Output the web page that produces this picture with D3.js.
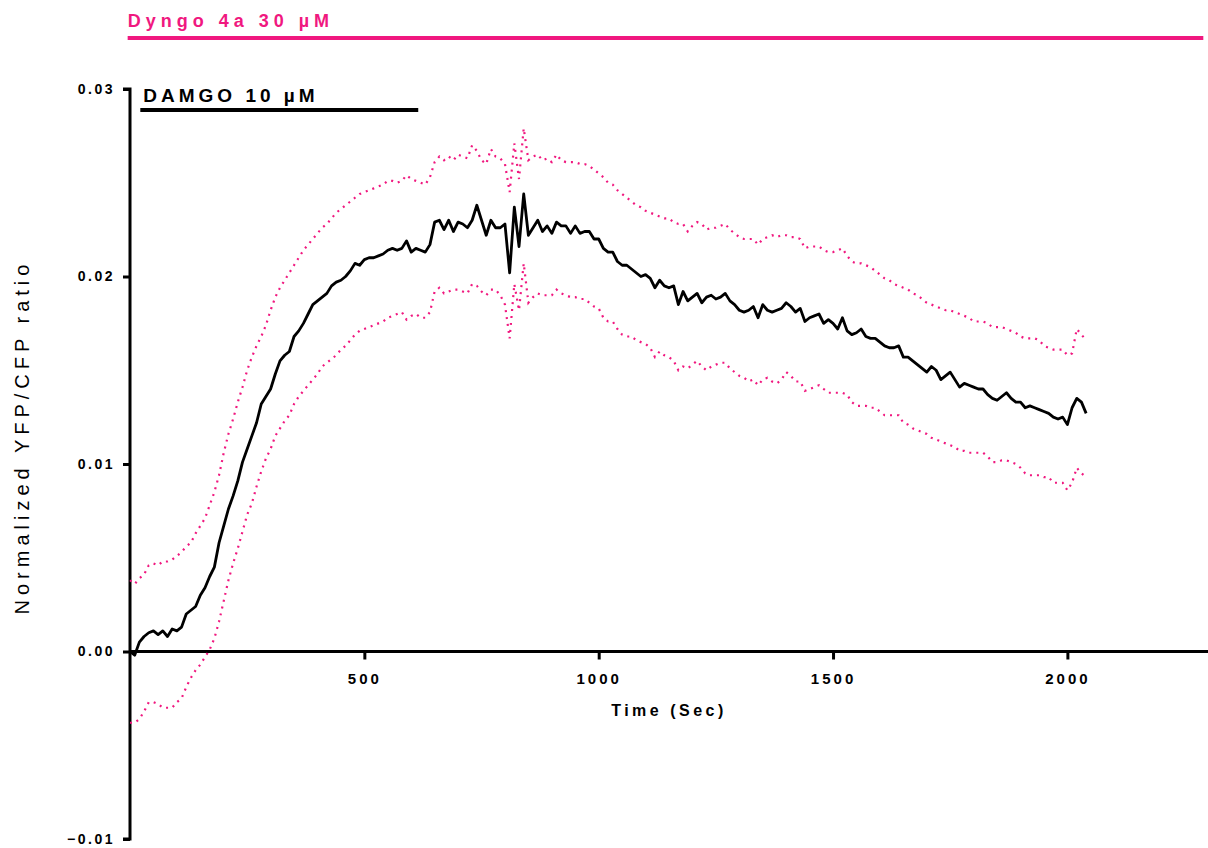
<!DOCTYPE html>
<html>
<head>
<meta charset="utf-8">
<script src="https://cdn.jsdelivr.net/npm/d3@7"></script>
<style>
  body { margin: 0; background: #fff; }
  svg text { font-family: "Liberation Sans", Arial, sans-serif; }
</style>
</head>
<body>
<div id="graph"></div>
<script>
// time points (sec), one sample every 10 s
const timeSec = d3.range(0, 2041, 10);

// normalized YFP/CFP ratio, mean trace
const meanRatio = [
  0.0000,-0.0002,0.0005,0.0008,0.0010,0.0011,0.0009,0.0011,0.0008,0.0012,
  0.0011,0.0013,0.0020,0.0022,0.0024,0.0030,0.0034,0.0040,0.0045,0.0058,
  0.0067,0.0076,0.0083,0.0091,0.0101,0.0108,0.0115,0.0122,0.0132,0.0136,
  0.0140,0.0148,0.0155,0.0158,0.0160,0.0168,0.0171,0.0175,0.0180,0.0185,
  0.0187,0.0189,0.0191,0.0195,0.0197,0.0198,0.0200,0.0203,0.0207,0.0206,
  0.0209,0.0210,0.0210,0.0211,0.0212,0.0214,0.0215,0.0214,0.0215,0.0219,
  0.0213,0.0215,0.0214,0.0213,0.0217,0.0229,0.0230,0.0225,0.0230,0.0224,
  0.0229,0.0228,0.0226,0.0230,0.0238,0.0230,0.0222,0.0230,0.0226,0.0226,
  0.0228,0.0202,0.0237,0.0216,0.0244,0.0222,0.0226,0.0230,0.0224,0.0227,
  0.0223,0.0229,0.0227,0.0227,0.0223,0.0227,0.0223,0.0224,0.0224,0.0220,
  0.0220,0.0215,0.0213,0.0213,0.0208,0.0206,0.0206,0.0204,0.0202,0.0200,
  0.0201,0.0199,0.0194,0.0198,0.0195,0.0194,0.0195,0.0185,0.0192,0.0187,
  0.0189,0.0191,0.0186,0.0189,0.0190,0.0188,0.0189,0.0191,0.0187,0.0185,
  0.0182,0.0181,0.0182,0.0184,0.0178,0.0185,0.0182,0.0181,0.0182,0.0183,
  0.0186,0.0184,0.0181,0.0183,0.0176,0.0178,0.0179,0.0180,0.0175,0.0177,
  0.0175,0.0172,0.0178,0.0171,0.0169,0.0170,0.0172,0.0168,0.0167,0.0167,
  0.0165,0.0163,0.0162,0.0162,0.0163,0.0157,0.0157,0.0155,0.0153,0.0151,
  0.0149,0.0152,0.0150,0.0145,0.0147,0.0149,0.0145,0.0141,0.0143,0.0142,
  0.0141,0.0140,0.0140,0.0137,0.0135,0.0134,0.0136,0.0138,0.0135,0.0133,
  0.0133,0.0130,0.0131,0.0130,0.0129,0.0128,0.0127,0.0125,0.0124,0.0125,
  0.0121,0.0130,0.0135,0.0133,0.0127
];

// upper band (mean + SEM)
const upperRatio = [
  0.0038,0.0036,0.0039,0.0041,0.0046,0.0047,0.0046,0.0048,0.0048,0.0049,
  0.0051,0.0053,0.0056,0.0058,0.0063,0.0067,0.0071,0.0078,0.0085,0.0094,
  0.0106,0.0116,0.0124,0.0133,0.0141,0.0150,0.0157,0.0163,0.0168,0.0174,
  0.0182,0.0189,0.0194,0.0198,0.0202,0.0206,0.0210,0.0214,0.0217,0.0220,
  0.0223,0.0226,0.0228,0.0231,0.0234,0.0236,0.0238,0.0240,0.0242,0.0244,
  0.0245,0.0246,0.0247,0.0248,0.0249,0.0251,0.0251,0.0250,0.0251,0.0254,
  0.0252,0.0251,0.0250,0.0249,0.0253,0.0261,0.0264,0.0262,0.0264,0.0262,
  0.0265,0.0264,0.0263,0.0270,0.0267,0.0262,0.0260,0.0268,0.0264,0.0263,
  0.0260,0.0245,0.0271,0.0252,0.0279,0.0262,0.0264,0.0265,0.0262,0.0263,
  0.0261,0.0265,0.0262,0.0261,0.0261,0.0261,0.0260,0.0260,0.0259,0.0257,
  0.0255,0.0253,0.0250,0.0249,0.0246,0.0244,0.0242,0.0240,0.0238,0.0237,
  0.0235,0.0234,0.0233,0.0232,0.0231,0.0231,0.0229,0.0228,0.0228,0.0224,
  0.0227,0.0229,0.0228,0.0225,0.0226,0.0226,0.0227,0.0228,0.0225,0.0223,
  0.0221,0.0220,0.0220,0.0220,0.0217,0.0220,0.0221,0.0222,0.0221,0.0222,
  0.0222,0.0221,0.0221,0.0220,0.0215,0.0216,0.0216,0.0216,0.0214,0.0213,
  0.0213,0.0214,0.0215,0.0211,0.0208,0.0207,0.0207,0.0206,0.0205,0.0203,
  0.0201,0.0199,0.0198,0.0196,0.0195,0.0194,0.0193,0.0191,0.0190,0.0188,
  0.0186,0.0185,0.0184,0.0183,0.0182,0.0182,0.0181,0.0180,0.0179,0.0178,
  0.0176,0.0176,0.0176,0.0175,0.0173,0.0173,0.0173,0.0172,0.0171,0.0170,
  0.0168,0.0167,0.0167,0.0167,0.0166,0.0163,0.0162,0.0161,0.0161,0.0161,
  0.0158,0.0159,0.0172,0.0169,0.0166
];

// lower band (mean - SEM)
const lowerRatio = [
  -0.0038,-0.0038,-0.0036,-0.0032,-0.0027,-0.0027,-0.0028,-0.0030,-0.0030,-0.0030,
  -0.0027,-0.0025,-0.0019,-0.0014,-0.0010,-0.0007,-0.0003,0.0001,0.0007,0.0016,
  0.0027,0.0038,0.0047,0.0055,0.0064,0.0073,0.0079,0.0088,0.0096,0.0103,
  0.0108,0.0115,0.0119,0.0123,0.0126,0.0132,0.0136,0.0139,0.0142,0.0145,
  0.0148,0.0152,0.0154,0.0156,0.0158,0.0161,0.0163,0.0166,0.0169,0.0171,
  0.0172,0.0173,0.0174,0.0175,0.0176,0.0178,0.0179,0.0180,0.0181,0.0177,
  0.0179,0.0180,0.0178,0.0178,0.0181,0.0192,0.0194,0.0191,0.0192,0.0193,
  0.0193,0.0192,0.0191,0.0196,0.0195,0.0192,0.0190,0.0193,0.0193,0.0190,
  0.0185,0.0167,0.0196,0.0182,0.0207,0.0186,0.0189,0.0191,0.0190,0.0190,
  0.0190,0.0193,0.0191,0.0190,0.0189,0.0189,0.0188,0.0188,0.0186,0.0184,
  0.0183,0.0178,0.0176,0.0176,0.0172,0.0169,0.0168,0.0168,0.0166,0.0165,
  0.0164,0.0162,0.0157,0.0160,0.0158,0.0157,0.0155,0.0150,0.0152,0.0151,
  0.0153,0.0155,0.0152,0.0150,0.0152,0.0153,0.0154,0.0154,0.0151,0.0149,
  0.0147,0.0146,0.0144,0.0145,0.0142,0.0145,0.0146,0.0144,0.0143,0.0145,
  0.0149,0.0147,0.0144,0.0144,0.0139,0.0140,0.0141,0.0142,0.0140,0.0138,
  0.0138,0.0138,0.0138,0.0137,0.0133,0.0131,0.0131,0.0131,0.0130,0.0130,
  0.0128,0.0126,0.0126,0.0126,0.0126,0.0122,0.0121,0.0119,0.0118,0.0117,
  0.0116,0.0114,0.0113,0.0112,0.0111,0.0110,0.0109,0.0107,0.0107,0.0106,
  0.0106,0.0106,0.0106,0.0104,0.0101,0.0101,0.0102,0.0102,0.0101,0.0100,
  0.0098,0.0095,0.0094,0.0094,0.0094,0.0093,0.0093,0.0090,0.0090,0.0090,
  0.0086,0.0090,0.0098,0.0095,0.0093
];

// treatment bars (sec)
const dyngoPeriod = [-5, 2290];
const damgoPeriod = [22, 615];

const xTicks = [500, 1000, 1500, 2000];
const yTicks = [-0.01, 0.00, 0.01, 0.02, 0.03];

const width = 1208, height = 848;
const pink = "#f0187f";

let graph = d3.select("div#graph")
  .append("svg")
  .attr("width", width)
  .attr("height", height);

let xScale = d3.scaleLinear()
  .domain([0, 2300])
  .range([130, 1208]);

let yScale = d3.scaleLinear()
  .domain([-0.01, 0.03])
  .range([839, 89]);

// y axis
let yAxis = d3.axisLeft(yScale)
  .tickValues(yTicks)
  .tickFormat(d3.format(".2f"))
  .tickSize(7)
  .tickPadding(8);

let gy = graph.append("g")
  .attr("class", "y axis")
  .attr("transform", `translate(${xScale(0)},0)`)
  .call(yAxis);
gy.select(".domain").attr("stroke", "#000").attr("stroke-width", 3).attr("d", `M-7,${yScale(0.03)}H0V${yScale(-0.01)}H-7`);
gy.selectAll(".tick line").attr("stroke-width", 3);
gy.selectAll("text")
  .attr("font-size", 14)
  .attr("font-weight", "bold")
  .attr("letter-spacing", "2.5px")
  .attr("fill", "#000");

// x axis at zero
let xAxis = d3.axisBottom(xScale)
  .tickValues(xTicks)
  .tickFormat(d3.format("d"))
  .tickSize(8)
  .tickPadding(14);

let gx = graph.append("g")
  .attr("class", "x axis")
  .attr("transform", `translate(0,${yScale(0)})`)
  .call(xAxis);
gx.select(".domain").attr("stroke", "#000").attr("stroke-width", 3).attr("d", `M${xScale(0)},0H1208`);
gx.selectAll(".tick line").attr("stroke-width", 3);
gx.selectAll("text")
  .attr("font-size", 15)
  .attr("font-weight", "bold")
  .attr("letter-spacing", "3px")
  .attr("fill", "#000");

// axis titles
graph.append("text")
  .attr("x", 669)
  .attr("y", 716)
  .attr("text-anchor", "middle")
  .attr("font-size", 16)
  .attr("font-weight", "bold")
  .attr("letter-spacing", "3.5px")
  .text("Time (Sec)");

graph.append("text")
  .attr("transform", `translate(29,437) rotate(-90)`)
  .attr("text-anchor", "middle")
  .attr("font-size", 20)
  .attr("letter-spacing", "5px")
  .text("Normalized YFP/CFP ratio");

// data lines
let line = (vals) => d3.line()
  .x((d, i) => xScale(timeSec[i]))
  .y(d => yScale(d))(vals);

graph.append("path")
  .attr("d", line(upperRatio))
  .attr("fill", "none")
  .attr("stroke", pink)
  .attr("stroke-width", 2.2)
  .attr("stroke-dasharray", "2,5");

graph.append("path")
  .attr("d", line(lowerRatio))
  .attr("fill", "none")
  .attr("stroke", pink)
  .attr("stroke-width", 2.2)
  .attr("stroke-dasharray", "2,5");

graph.append("path")
  .attr("d", line(meanRatio))
  .attr("fill", "none")
  .attr("stroke", "#000")
  .attr("stroke-width", 2.8)
  .attr("stroke-linejoin", "round");

// treatment bars
graph.append("line")
  .attr("x1", xScale(dyngoPeriod[0]))
  .attr("x2", xScale(dyngoPeriod[1]))
  .attr("y1", 38).attr("y2", 38)
  .attr("stroke", pink)
  .attr("stroke-width", 4);

graph.append("text")
  .attr("x", xScale(dyngoPeriod[0]))
  .attr("y", 27)
  .attr("font-size", 18)
  .attr("font-weight", "bold")
  .attr("letter-spacing", "5px")
  .attr("fill", pink)
  .text("Dyngo 4a 30 µM");

graph.append("line")
  .attr("x1", xScale(damgoPeriod[0]))
  .attr("x2", xScale(damgoPeriod[1]))
  .attr("y1", 110).attr("y2", 110)
  .attr("stroke", "#000")
  .attr("stroke-width", 4);

graph.append("text")
  .attr("x", xScale(damgoPeriod[0]) + 3)
  .attr("y", 102)
  .attr("font-size", 19)
  .attr("font-weight", "bold")
  .attr("letter-spacing", "4px")
  .text("DAMGO 10 µM");
</script>
</body>
</html>
